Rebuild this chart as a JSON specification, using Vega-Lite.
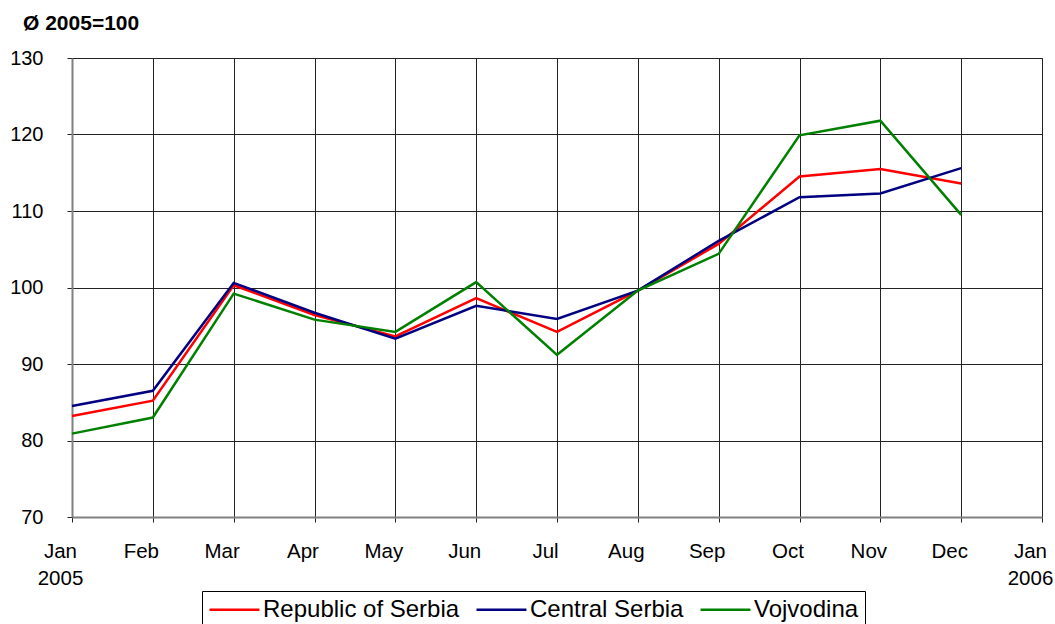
{
  "$schema": "https://vega.github.io/schema/vega-lite/v6.json",
  "autosize": "none",
  "width": 970,
  "height": 459,
  "padding": {"left": 72, "top": 58, "right": 13, "bottom": 107},
  "background": "white",
  "title": {"text": "Ø 2005=100", "anchor": "start", "frame": "group", "dx": -49, "offset": 14, "fontSize": 21, "fontWeight": "bold", "font": "Liberation Sans", "color": "#000"},
  "config": {
    "view": {"stroke": "#808080", "strokeWidth": 1},
    "axis": {"labelFont": "Liberation Sans", "labelFontSize": 20, "labelColor": "#000", "domainColor": "#808080", "domainWidth": 2, "tickColor": "#222", "tickSize": 5, "gridColor": "#222", "gridWidth": 1, "gridOpacity": 1, "title": null}
  },
  "data": {"values": [
    {"month": "Jan 2005", "series": "Republic of Serbia", "value": 83.2},
    {"month": "Feb", "series": "Republic of Serbia", "value": 85.2},
    {"month": "Mar", "series": "Republic of Serbia", "value": 100.3},
    {"month": "Apr", "series": "Republic of Serbia", "value": 96.4},
    {"month": "May", "series": "Republic of Serbia", "value": 93.6},
    {"month": "Jun", "series": "Republic of Serbia", "value": 98.6},
    {"month": "Jul", "series": "Republic of Serbia", "value": 94.2},
    {"month": "Aug", "series": "Republic of Serbia", "value": 99.6},
    {"month": "Sep", "series": "Republic of Serbia", "value": 105.7},
    {"month": "Oct", "series": "Republic of Serbia", "value": 114.5},
    {"month": "Nov", "series": "Republic of Serbia", "value": 115.5},
    {"month": "Dec", "series": "Republic of Serbia", "value": 113.6},
    {"month": "Jan 2005", "series": "Central Serbia", "value": 84.5},
    {"month": "Feb", "series": "Central Serbia", "value": 86.5},
    {"month": "Mar", "series": "Central Serbia", "value": 100.6},
    {"month": "Apr", "series": "Central Serbia", "value": 96.7},
    {"month": "May", "series": "Central Serbia", "value": 93.3},
    {"month": "Jun", "series": "Central Serbia", "value": 97.6},
    {"month": "Jul", "series": "Central Serbia", "value": 95.9},
    {"month": "Aug", "series": "Central Serbia", "value": 99.6},
    {"month": "Sep", "series": "Central Serbia", "value": 106.1},
    {"month": "Oct", "series": "Central Serbia", "value": 111.8},
    {"month": "Nov", "series": "Central Serbia", "value": 112.3},
    {"month": "Dec", "series": "Central Serbia", "value": 115.6},
    {"month": "Jan 2005", "series": "Vojvodina", "value": 80.9},
    {"month": "Feb", "series": "Vojvodina", "value": 83.0},
    {"month": "Mar", "series": "Vojvodina", "value": 99.2},
    {"month": "Apr", "series": "Vojvodina", "value": 95.8},
    {"month": "May", "series": "Vojvodina", "value": 94.2},
    {"month": "Jun", "series": "Vojvodina", "value": 100.7},
    {"month": "Jul", "series": "Vojvodina", "value": 91.2},
    {"month": "Aug", "series": "Vojvodina", "value": 99.6},
    {"month": "Sep", "series": "Vojvodina", "value": 104.4},
    {"month": "Oct", "series": "Vojvodina", "value": 119.9},
    {"month": "Nov", "series": "Vojvodina", "value": 121.8},
    {"month": "Dec", "series": "Vojvodina", "value": 109.5}
  ]},
  "mark": {"type": "line", "strokeWidth": 2.5},
  "encoding": {
    "x": {
      "field": "month", "type": "ordinal",
      "scale": {"type": "point", "padding": 0, "domain": ["Jan 2005", "Feb", "Mar", "Apr", "May", "Jun", "Jul", "Aug", "Sep", "Oct", "Nov", "Dec", "Jan 2006"]},
      "sort": null,
      "axis": {"grid": true, "labelAngle": 0, "labelOffset": -12, "labelFontSize": 20.5, "labelPadding": 19, "labelBaseline": "top", "labelLineHeight": 27, "labelExpr": "split(datum.label, ' ')"}
    },
    "y": {
      "field": "value", "type": "quantitative",
      "scale": {"domain": [70, 130], "nice": false, "zero": false},
      "axis": {"values": [70, 80, 90, 100, 110, 120, 130], "grid": true, "labelPadding": 24}
    },
    "color": {
      "field": "series", "type": "nominal",
      "scale": {"domain": ["Republic of Serbia", "Central Serbia", "Vojvodina"], "range": ["#FF0000", "#000080", "#008000"]},
      "legend": {"title": null, "orient": "none", "legendX": 130, "legendY": 533, "direction": "horizontal", "symbolType": "M-1,0H3.54", "symbolSize": 484, "symbolStrokeWidth": 2.5, "labelFont": "Liberation Sans", "labelFontSize": 24, "labelColor": "#000", "labelOffset": 30, "labelLimit": 0, "columnPadding": 11, "strokeColor": "#000", "padding": 6, "fillColor": "white"}
    },
    "order": {"field": "series"}
  }
}
